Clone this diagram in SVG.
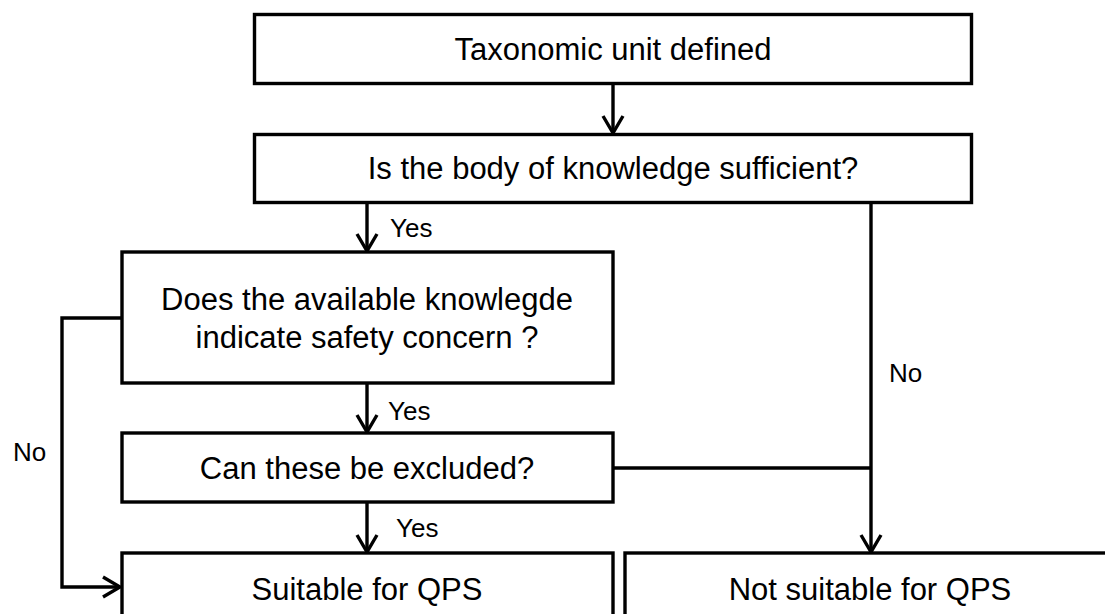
<svg xmlns="http://www.w3.org/2000/svg" width="1105" height="614" viewBox="0 0 1105 614">
<style>
.box{fill:#fff;stroke:#000;stroke-width:3.4}
.t{font-family:"Liberation Sans",Arial,sans-serif;font-size:31px;fill:#000;text-anchor:middle}
.l{font-family:"Liberation Sans",Arial,sans-serif;font-size:26px;fill:#000}
.c{fill:none;stroke:#000;stroke-width:3.4}
</style>
<defs>
<marker id="ah" viewBox="-20 -12 22 24" refX="0" refY="0" markerWidth="22" markerHeight="24" markerUnits="userSpaceOnUse" orient="auto">
<path d="M-17,-10 L0,0 L-17,10" fill="none" stroke="#000" stroke-width="3.4"/>
</marker>
</defs>
<rect width="1105" height="614" fill="#fff"/>
<g id="n1"><rect class="box" x="254.5" y="14.5" width="717" height="69"/><text class="t" x="613" y="60">Taxonomic unit defined</text></g>
<g id="n2"><rect class="box" x="254.5" y="134.5" width="717" height="68"/><text class="t" x="613" y="179">Is the body of knowledge sufficient?</text></g>
<g id="n3"><rect class="box" x="122" y="252" width="491" height="131"/><text class="t" x="367" y="310">Does the available knowlegde</text><text class="t" x="367" y="348">indicate safety concern ?</text></g>
<g id="n4"><rect class="box" x="122" y="433" width="491" height="69"/><text class="t" x="367" y="479">Can these be excluded?</text></g>
<g id="n5"><rect class="box" x="122" y="553" width="491" height="80"/><text class="t" x="367" y="600">Suitable for QPS</text></g>
<g id="n6"><rect class="box" x="625" y="553" width="500" height="80"/><text class="t" x="870" y="600">Not suitable for QPS</text></g>
<g id="connectors">
<path class="c" d="M613,84 V133" marker-end="url(#ah)"/>
<path class="c" d="M367,203 V251" marker-end="url(#ah)"/>
<path class="c" d="M367,383 V432" marker-end="url(#ah)"/>
<path class="c" d="M367,502 V552" marker-end="url(#ah)"/>
<path class="c" d="M122,318 H62 V587 H120" marker-end="url(#ah)"/>
<path class="c" d="M871,203 V552" marker-end="url(#ah)"/>
<path class="c" d="M613,468 H871"/>
<text class="l" x="390" y="237">Yes</text>
<text class="l" x="388" y="420">Yes</text>
<text class="l" x="396" y="537">Yes</text>
<text class="l" x="13" y="461">No</text>
<text class="l" x="889" y="382">No</text>
</g>
</svg>
